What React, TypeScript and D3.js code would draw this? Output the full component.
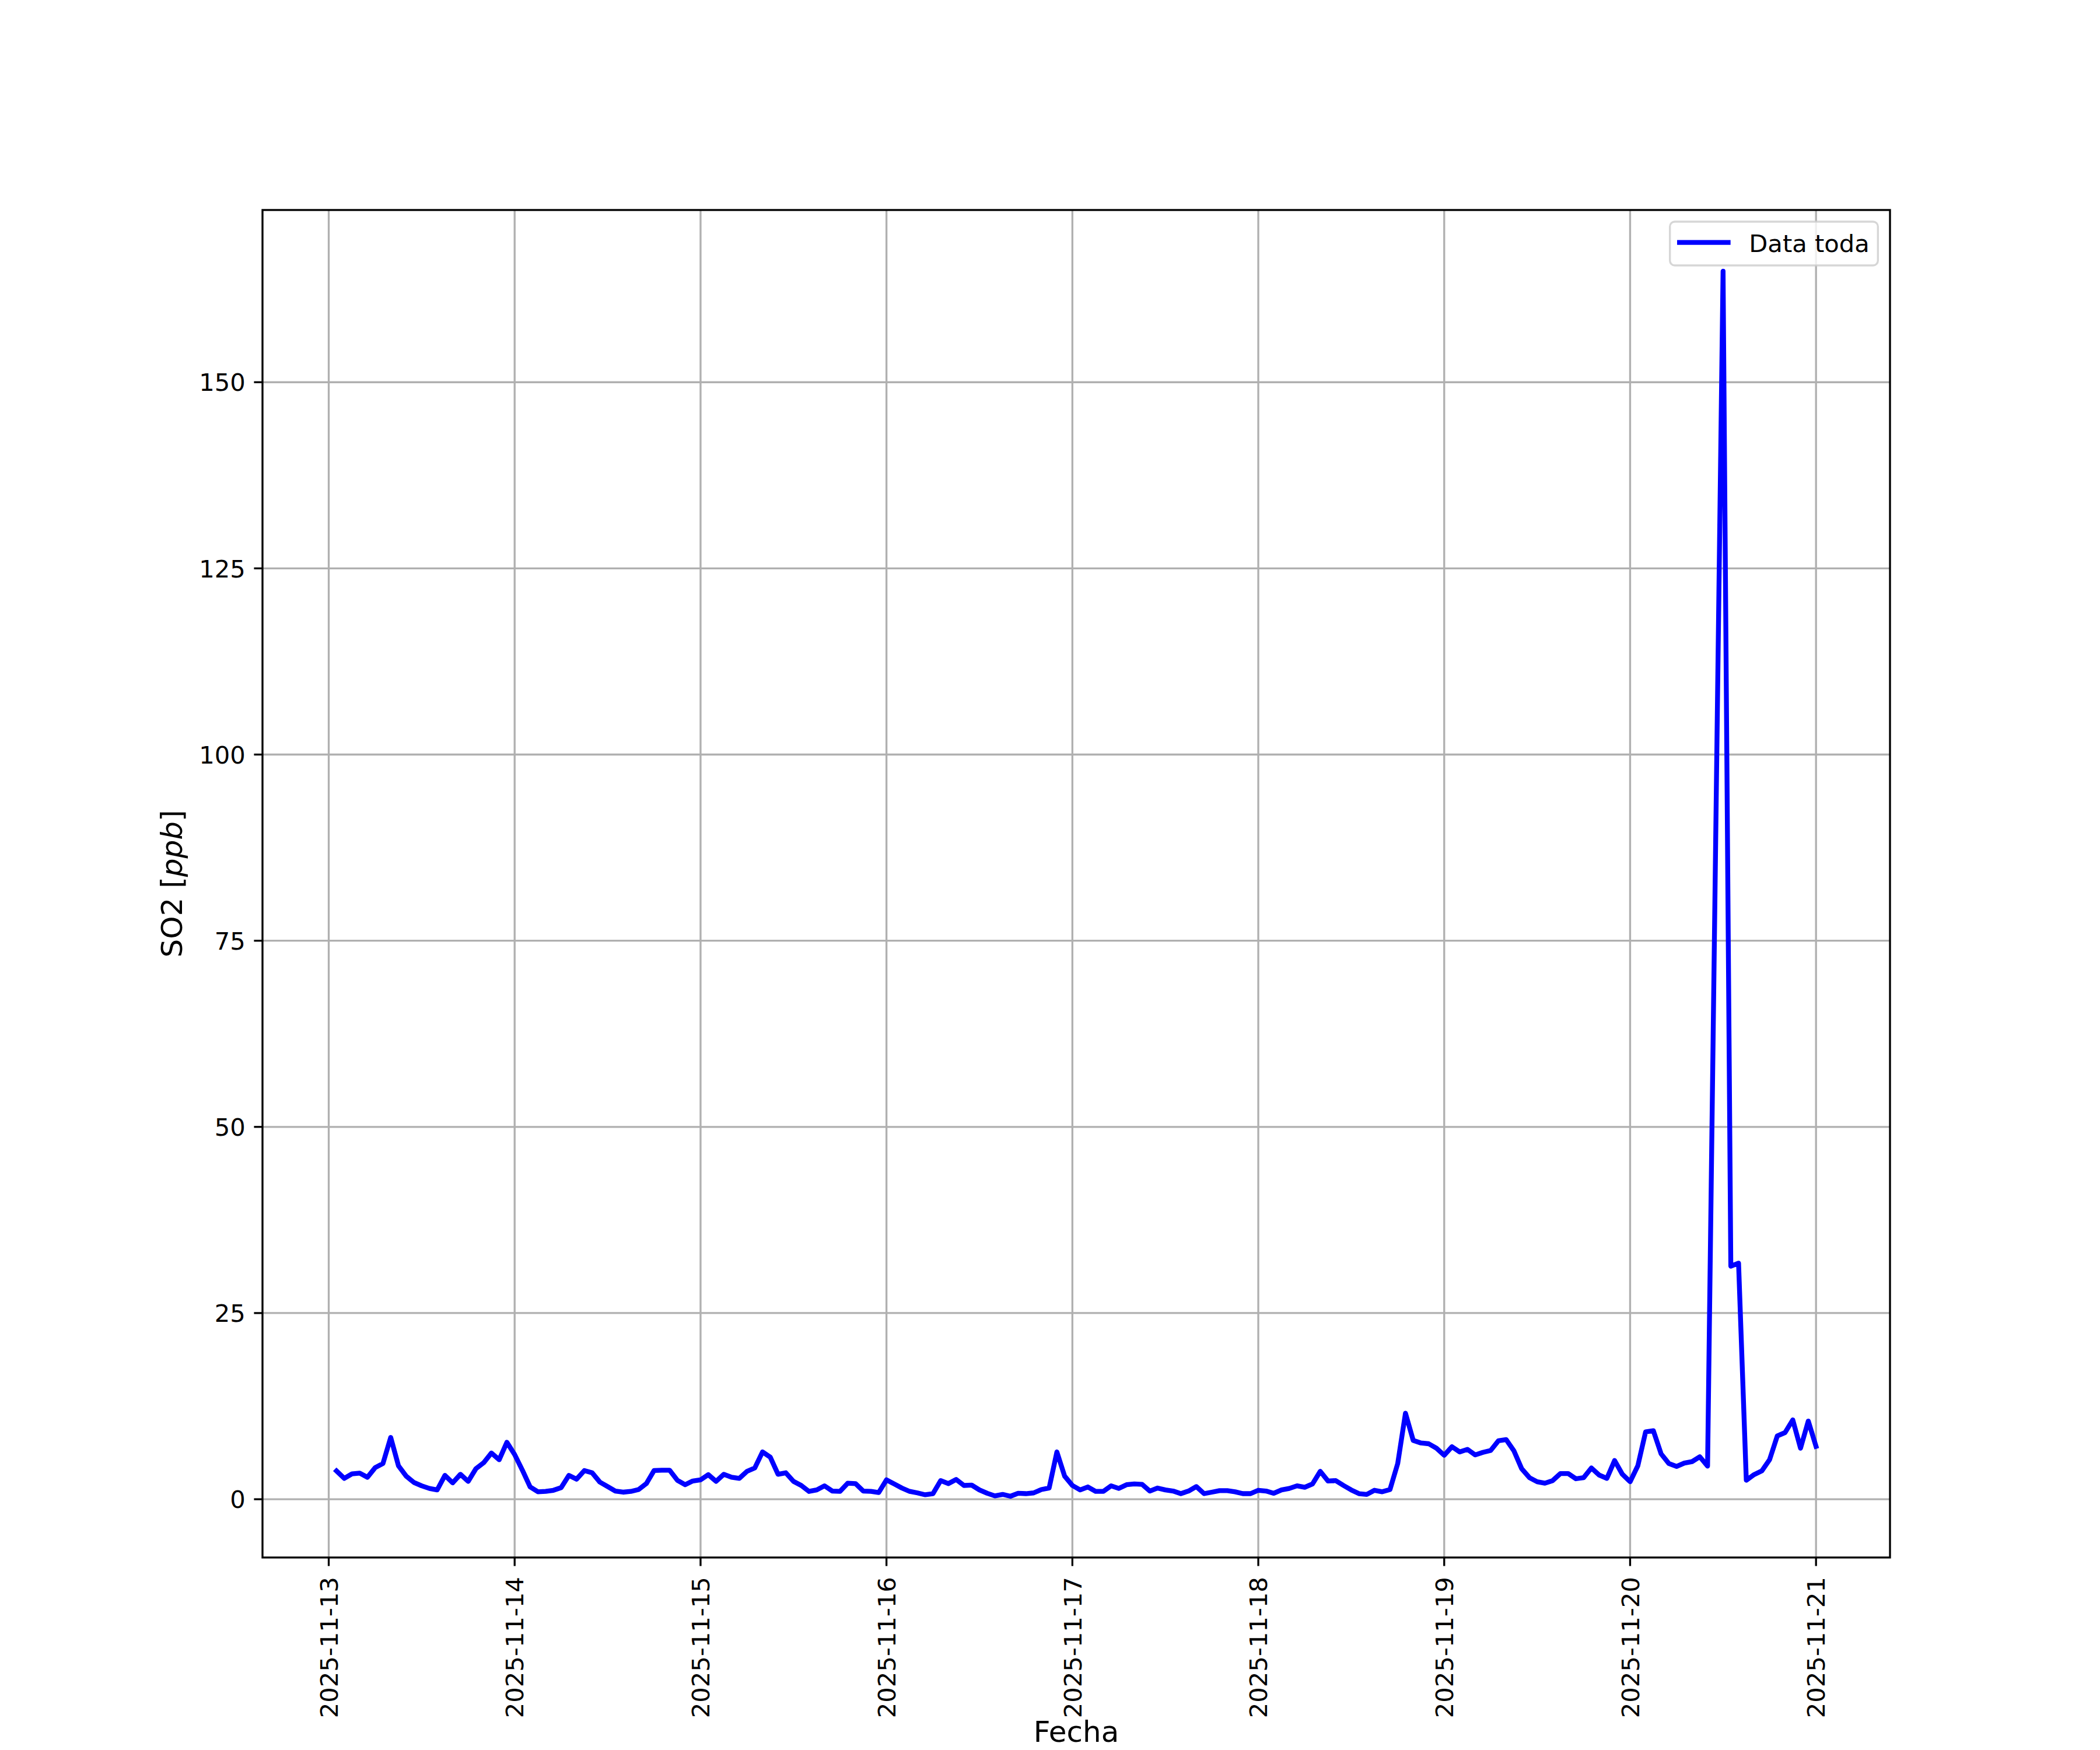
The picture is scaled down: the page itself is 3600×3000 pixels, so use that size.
import React from "react";
import * as d3 from "d3";

// Hourly SO2 readings [ppb]; each array starts at the hour given in dayStartHours
const so2Day13 = [3.8, 2.8, 3.4, 3.5, 2.95, 4.25, 4.8, 8.3, 4.5, 3.1, 2.25, 1.8, 1.45, 1.25, 3.2, 2.2, 3.35, 2.4, 4.1, 4.9, 6.2, 5.3, 7.65];
const so2Day14 = [6.0, 3.9, 1.65, 1.0, 1.05, 1.2, 1.55, 3.2, 2.7, 3.85, 3.55, 2.3, 1.7, 1.1, 0.95, 1.05, 1.3, 2.1, 3.85, 3.9, 3.9, 2.55, 1.95, 2.45];
const so2Day15 = [2.6, 3.3, 2.4, 3.35, 2.95, 2.8, 3.75, 4.2, 6.35, 5.65, 3.35, 3.55, 2.4, 1.85, 1.05, 1.25, 1.8, 1.1, 1.05, 2.15, 2.1, 1.1, 1.05, 0.9];
const so2Day16 = [2.6, 2.05, 1.5, 1.05, 0.85, 0.6, 0.75, 2.5, 2.1, 2.65, 1.85, 1.9, 1.25, 0.8, 0.45, 0.65, 0.4, 0.8, 0.75, 0.85, 1.3, 1.5, 6.35, 3.1];
const so2Day17 = [1.85, 1.25, 1.65, 1.05, 1.05, 1.8, 1.45, 1.95, 2.05, 2.0, 1.1, 1.5, 1.25, 1.1, 0.75, 1.1, 1.7, 0.75, 0.95, 1.15, 1.15, 1.0, 0.75, 0.75];
const so2Day18 = [1.2, 1.1, 0.8, 1.25, 1.45, 1.8, 1.6, 2.05, 3.75, 2.45, 2.5, 1.85, 1.25, 0.75, 0.65, 1.2, 1.0, 1.3, 4.8, 11.55, 7.9, 7.55, 7.45, 6.85];
const so2Day19 = [5.9, 7.05, 6.35, 6.7, 5.95, 6.3, 6.55, 7.85, 8.0, 6.5, 4.1, 2.9, 2.35, 2.15, 2.5, 3.45, 3.45, 2.75, 2.9, 4.2, 3.25, 2.8, 5.2, 3.35];
const so2Day20 = [2.35, 4.5, 9.05, 9.2, 6.1, 4.8, 4.4, 4.85, 5.05, 5.7, 4.45, null, 164.9, 31.3, 31.7, 2.55, 3.3, 3.8, 5.3, 8.5, 8.95, 10.65, 6.85, 10.5];
const so2Day21 = [7.1];

const dayNumbers = [13, 14, 15, 16, 17, 18, 19, 20, 21];
const dayStartHours = [1, 0, 0, 0, 0, 0, 0, 0, 0];
const dayValues = [so2Day13, so2Day14, so2Day15, so2Day16, so2Day17, so2Day18, so2Day19, so2Day20, so2Day21];

const yTickValues = [0, 25, 50, 75, 100, 125, 150];
const xTickDays = [13, 14, 15, 16, 17, 18, 19, 20, 21];

const seriesLabel = "Data toda";
const xLabel = "Fecha";

type Pt = { t: Date; v: number };

const data: Pt[] = [];
dayNumbers.forEach((day, i) => {
  dayValues[i].forEach((v, k) => {
    if (v === null) return;
    data.push({ t: new Date(Date.UTC(2025, 10, day, dayStartHours[i] + k)), v: v as number });
  });
});

const W = 3600;
const H = 3000;
const left = 450;
const right = 3240;
const top = 360;
const bottom = 2670;
const FS = 41.67;
const LFS = 50;
const pt = 300 / 72;

export default function App() {
  const [t0, t1] = d3.extent(data, (d) => d.t) as [Date, Date];
  const span = +t1 - +t0;
  const x = d3
    .scaleUtc()
    .domain([new Date(+t0 - 0.05 * span), new Date(+t1 + 0.05 * span)])
    .range([left, right]);
  const [v0, v1] = d3.extent(data, (d) => d.v) as [number, number];
  const vs = v1 - v0;
  const y = d3
    .scaleLinear()
    .domain([v0 - 0.05 * vs, v1 + 0.05 * vs])
    .range([bottom, top]);

  const line = d3
    .line<Pt>()
    .x((d) => x(d.t))
    .y((d) => y(d.v));

  const xTicks = xTickDays.map((d) => new Date(Date.UTC(2025, 10, d)));
  const fmt = d3.utcFormat("%Y-%m-%d");
  const tickLen = 3.5 * pt;
  const pad = 3.5 * pt;
  const capH = 0.73 * FS;

  const legX0 = 2862.7;
  const legX1 = 3219.3;
  const legY0 = 380;
  const legY1 = 455;

  return (
    <svg
      width={W}
      height={H}
      style={{ position: "absolute", left: 0, top: 0, display: "block", background: "#fff" }}
      fontFamily="DejaVu Sans"
    >
      <rect x={0} y={0} width={W} height={H} fill="#fff" />
      <defs>
        <clipPath id="axclip">
          <rect x={left} y={top} width={right - left} height={bottom - top} />
        </clipPath>
      </defs>
      {/* grid */}
      <g stroke="#b0b0b0" strokeWidth={0.8 * pt}>
        {xTicks.map((t, i) => (
          <line key={"gx" + i} x1={x(t)} x2={x(t)} y1={top} y2={bottom} />
        ))}
        {yTickValues.map((v, i) => (
          <line key={"gy" + i} x1={left} x2={right} y1={y(v)} y2={y(v)} />
        ))}
      </g>
      {/* data line */}
      <path
        d={line(data) || ""}
        fill="none"
        stroke="#0000ff"
        strokeWidth={2 * pt}
        strokeLinejoin="round"
        strokeLinecap="square"
        clipPath="url(#axclip)"
      />
      {/* spines */}
      <rect
        x={left}
        y={top}
        width={right - left}
        height={bottom - top}
        fill="none"
        stroke="#000"
        strokeWidth={0.8 * pt}
        strokeLinejoin="miter"
      />
      {/* x ticks */}
      <g>
        {xTicks.map((t, i) => {
          const xx = x(t);
          return (
            <g key={"xt" + i}>
              <line x1={xx} x2={xx} y1={bottom} y2={bottom + tickLen} stroke="#000" strokeWidth={0.8 * pt} />
              <text
                transform={`translate(${xx + capH / 2},${bottom + tickLen + pad + 4}) rotate(-90)`}
                textAnchor="end"
                fontSize={FS}
                fill="#000"
              >
                {fmt(t)}
              </text>
            </g>
          );
        })}
      </g>
      {/* y ticks */}
      <g>
        {yTickValues.map((v, i) => {
          const yy = y(v);
          return (
            <g key={"yt" + i}>
              <line x1={left - tickLen} x2={left} y1={yy} y2={yy} stroke="#000" strokeWidth={0.8 * pt} />
              <text x={left - tickLen - pad} y={yy + capH / 2} textAnchor="end" fontSize={FS} fill="#000">
                {v}
              </text>
            </g>
          );
        })}
      </g>
      {/* axis labels */}
      <text x={(left + right) / 2} y={2986} textAnchor="middle" fontSize={LFS} fill="#000">
        {xLabel}
      </text>
      <text
        transform={`translate(${311.7},${(top + bottom) / 2}) rotate(-90)`}
        textAnchor="middle"
        fontSize={LFS}
        fill="#000"
      >
        SO2 [<tspan fontStyle="italic">ppb</tspan>]
      </text>
      {/* legend */}
      <rect
        x={legX0}
        y={legY0}
        width={legX1 - legX0}
        height={legY1 - legY0}
        rx={0.2 * FS}
        ry={0.2 * FS}
        fill="#fff"
        fillOpacity={0.8}
        stroke="#cccccc"
        strokeOpacity={0.8}
        strokeWidth={0.8 * pt}
      />
      <line
        x1={2879.2}
        x2={2962.5}
        y1={415.7}
        y2={415.7}
        stroke="#0000ff"
        strokeWidth={2 * pt}
        strokeLinecap="square"
      />
      <text x={2998.3} y={432} fontSize={FS} fill="#000">
        {seriesLabel}
      </text>
    </svg>
  );
}
